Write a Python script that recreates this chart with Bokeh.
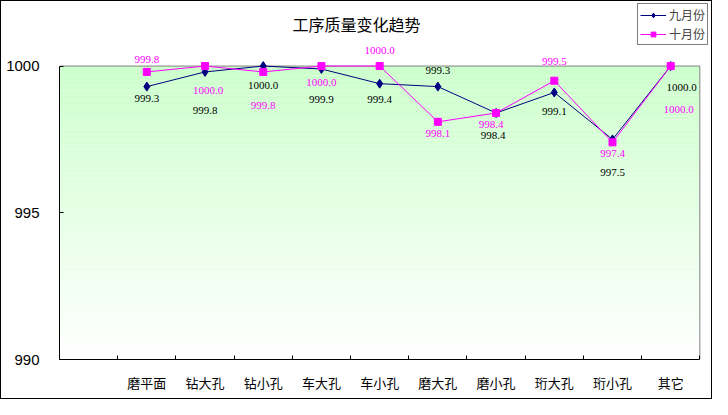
from bokeh.plotting import figure
from bokeh.models import ColumnDataSource, Range1d, FixedTicker, LabelSet, Legend, LegendItem, Label
from bokeh.embed import file_html
from bokeh.resources import INLINE

title = "工序质量变化趋势"
categories = ["磨平面", "钻大孔", "钻小孔", "车大孔", "车小孔", "磨大孔", "磨小孔", "珩大孔", "珩小孔", "其它"]
sep = [999.3, 999.8, 1000.0, 999.9, 999.4, 999.3, 998.4, 999.1, 997.5, 1000.0]
octo = [999.8, 1000.0, 999.8, 1000.0, 1000.0, 998.1, 998.4, 999.5, 997.4, 1000.0]
y_ticks = [990, 995, 1000]
y_min, y_max = 990, 1000

# where each data label sits relative to its point (screen px, + is down / right)
sep_dx = [0, 0, 0, 0, 0, 0, -3, 0, 0, 11]
sep_dy = [12, 39, 19, 31, 16, -16, 22, 19, 33, 21]
oct_dx = [0, 3, 0, 0, 0, 0, -5, 0, 0, 8]
oct_dy = [-12, 24, 34, 16, -16, 12, 11, -19, 11, 43]

ncat = len(categories) + 1
xs = [i + 1.5 for i in range(len(categories))]

# the frame covers the whole top and right of the chart so that labels,
# title and legend are not clipped; the visible plot area is drawn inside it
p = figure(
    width=712, height=399,
    x_range=Range1d(0, 11.235),
    y_range=Range1d(y_min, 1002.2),
    output_backend="svg", toolbar_location=None,
    min_border_left=58, min_border_right=0, min_border_top=0, min_border_bottom=41,
    background_fill_color="white", border_fill_color="white",
    styles={"border": "1px solid black", "box-sizing": "border-box"},
)

# green-to-white fill of the plot area
n = 60
b = [y_min + (y_max - y_min) * k / n for k in range(n + 1)]
cols = []
for k in range(n):
    t = (k + 0.5) / n
    r = int(round(255 - 51 * t))
    cols.append("#%02x%02x%02x" % (r, 255, r))
p.quad(left=0, right=ncat, bottom=b[:-1], top=b[1:], color=cols, line_color=None)

# grey top and right edges of the plot area
p.segment(x0=[0, ncat], y0=[y_max, y_min], x1=[ncat, ncat], y1=[y_max, y_max],
          line_color="#808080", line_width=1)

src_sep = ColumnDataSource(dict(x=xs, y=sep, t=["%.1f" % v for v in sep],
                                dx=sep_dx, dy=[-d for d in sep_dy]))
src_oct = ColumnDataSource(dict(x=xs, y=octo, t=["%.1f" % v for v in octo],
                                dx=oct_dx, dy=[-d for d in oct_dy]))

l1 = p.line("x", "y", source=src_sep, color="#000080", line_width=1)
m1 = p.scatter("x", "y", source=src_sep, marker="diamond", size=9, color="#000080")
l2 = p.line("x", "y", source=src_oct, color="#FF00FF", line_width=1)
m2 = p.scatter("x", "y", source=src_oct, marker="square", size=7, color="#FF00FF")

for src, c in [(src_sep, "black"), (src_oct, "#FF00FF")]:
    p.add_layout(LabelSet(x="x", y="y", text="t", source=src, x_offset="dx", y_offset="dy",
                          text_align="center", text_baseline="middle",
                          text_font="monospace", text_font_size="11px", text_color=c))

p.add_layout(Label(x=5.1, y=1001.42, text=title, text_align="center", text_baseline="middle",
                   text_font="Noto Sans CJK SC", text_font_size="16px", text_color="black"))

legend = Legend(items=[LegendItem(label="九月份", renderers=[l1, m1]),
                       LegendItem(label="十月份", renderers=[l2, m2])],
                location=(578, 314), border_line_color="black", background_fill_alpha=1,
                label_text_font="Noto Sans CJK SC", label_text_font_size="12px",
                glyph_width=26, glyph_height=12, label_height=12, spacing=2, padding=2, margin=0,
                label_standoff=3)
p.add_layout(legend)

p.grid.visible = False
p.outline_line_color = None

p.xaxis.ticker = FixedTicker(ticks=xs, minor_ticks=list(range(ncat + 1)))
p.xaxis.bounds = (0, ncat)
p.xaxis.major_label_overrides = {x: c for x, c in zip(xs, categories)}
p.xaxis.major_tick_line_color = None
p.xaxis.minor_tick_in = 4
p.xaxis.minor_tick_out = 0
p.xaxis.major_label_standoff = 7
p.xaxis.major_label_text_font = "Noto Sans CJK SC"
p.xaxis.major_label_text_font_size = "13px"

p.yaxis.ticker = FixedTicker(ticks=y_ticks, minor_ticks=[])
p.yaxis.bounds = (y_min, y_max)
p.yaxis.major_tick_in = 4
p.yaxis.major_tick_out = 0
p.yaxis.major_label_standoff = 20
p.yaxis.major_label_text_font = "Liberation Sans"
p.yaxis.major_label_text_font_size = "15px"

for ax in (p.xaxis, p.yaxis):
    ax.axis_line_color = "black"
    ax.major_label_text_color = "black"

open("out.html", "w").write(file_html(p, INLINE))
